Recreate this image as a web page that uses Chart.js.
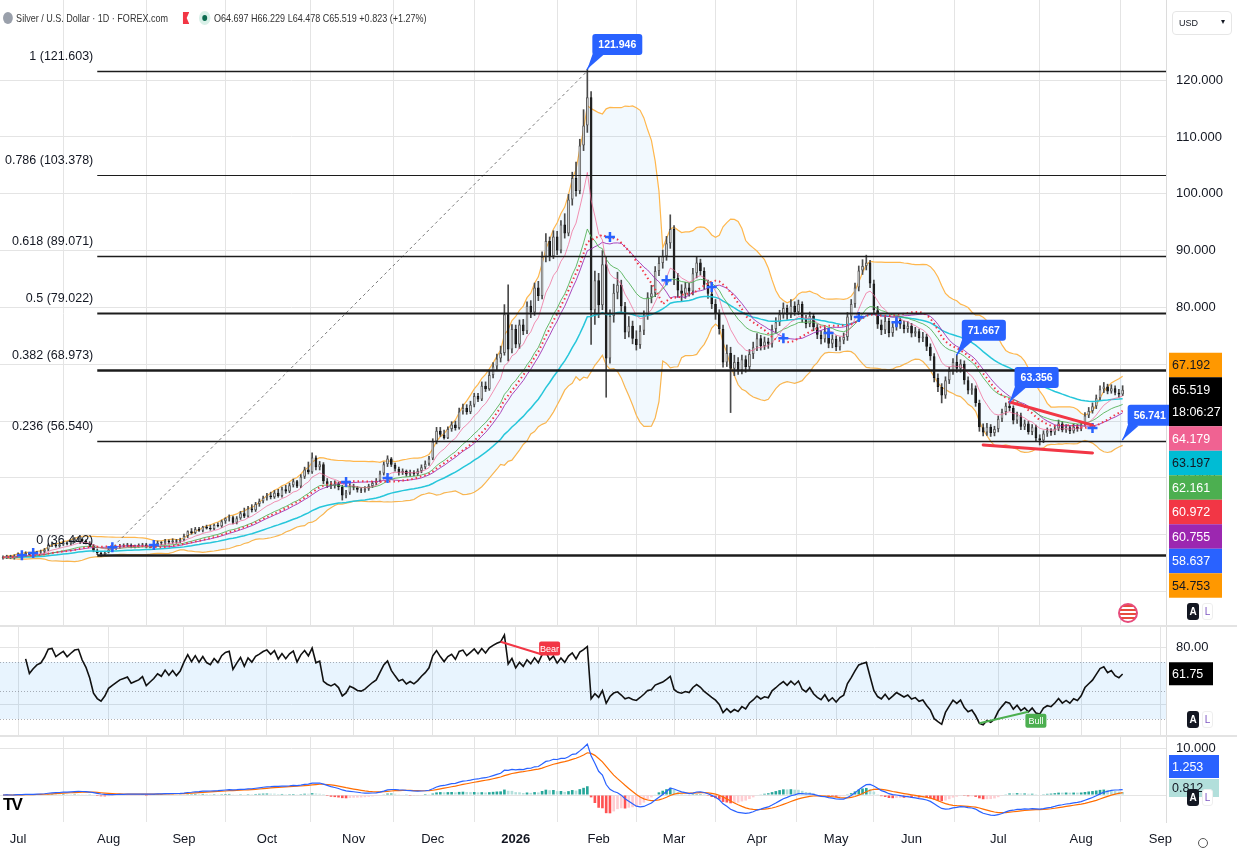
<!DOCTYPE html>
<html>
<head>
<meta charset="utf-8">
<script src="https://cdn.jsdelivr.net/npm/chart.js@4.4.1/dist/chart.umd.min.js"></script>
<style>
  body { margin: 0; background: #fff; }
  #wrap { position: relative; width: 1237px; height: 855px; overflow: hidden; font-family: 'Liberation Sans', Arial, sans-serif; color: #131722; }
  .pane { position: absolute; left: 0; width: 1237px; }
  .sep { position: absolute; left: 0; width: 1237px; height: 2px; background: #e3e3e3; }
  #hdr { position: absolute; left: 3px; top: 11px; font-size: 11px; display: flex; align-items: center; gap: 4px; color: #333; transform: scaleX(0.82); transform-origin: left center; white-space: nowrap; }
  .ico { width: 12px; height: 12px; border-radius: 50%; background: #9aa0ab; display: inline-block; }
  .flag { width: 8px; height: 12px; background: #f23645; display: inline-block; margin-left: 14px; clip-path: polygon(0 0,100% 0,60% 50%,100% 100%,0 100%); }
  .dot { width: 14px; height: 14px; border-radius: 50%; background: #d9f0e8; display: inline-flex; align-items: center; justify-content: center; margin-left: 8px; }
  .dot i { width: 6px; height: 6px; border-radius: 50%; background: #0a6b4f; display: block; }
  #usd { position: absolute; left: 1172px; top: 11px; width: 60px; height: 24px; border: 1px solid #e6e6e6; border-radius: 4px; font-size: 9px; box-sizing: border-box; padding: 6px 0 0 6px; }
  #usd span { position: absolute; right: 6px; top: 5px; font-size: 8px; }
  .al { position: absolute; left: 1187px; display: flex; gap: 3px; font-size: 10px; font-weight: bold; }
  .al b { width: 12px; height: 17px; border-radius: 3px; background: #131722; color: #fff; display: flex; align-items: center; justify-content: center; }
  .al em { width: 11px; height: 17px; border-radius: 3px; border: 1px solid #eee; color: #7e57c2; font-style: normal; font-weight: normal; display: flex; align-items: center; justify-content: center; box-sizing: border-box; background: #fff; }
  #globe { position: absolute; left: 1118px; top: 603px; width: 16px; height: 16px; border-radius: 50%; border: 2px solid #e74c7c; background: repeating-linear-gradient(#e74c3c 0 2px, #fff 2px 4px); }
  #tv { position: absolute; left: 3px; top: 795px; font: bold 17px 'Liberation Sans', sans-serif; letter-spacing: -2px; color: #000; }
  #gear { position: absolute; left: 1198px; top: 838px; width: 8px; height: 8px; border: 1.5px solid #555; border-radius: 50%; }
</style>
</head>
<body>
<div id="wrap">
  <div class="pane" style="top:0;height:627px"><canvas id="cPrice"></canvas></div>
  <div class="pane" style="top:627px;height:110px"><canvas id="cRsi"></canvas></div>
  <div class="pane" style="top:737px;height:118px"><canvas id="cMacd"></canvas></div>
  <div class="sep" style="top:625px"></div>
  <div class="sep" style="top:735px"></div>
  <div id="hdr"><span class="ico"></span><span>Silver / U.S. Dollar · 1D · FOREX.com</span><span class="flag"></span><span class="dot"><i></i></span><span>O64.697 H66.229 L64.478 C65.519 +0.823 (+1.27%)</span></div>
  <div id="usd">USD<span>▾</span></div>
  <div id="globe"></div>
  <div class="al" style="top:603px"><b>A</b><em>L</em></div>
  <div class="al" style="top:711px"><b>A</b><em>L</em></div>
  <div class="al" style="top:789px"><b>A</b><em>L</em></div>
  <div id="tv">TV</div>
  <div id="gear"></div>
</div>
<script>
const FONT = "'Liberation Sans', Arial, sans-serif";

// month ticks (trading-day index of the first session of each month)
const monthLabels = ['Jul', 'Aug', 'Sep', 'Oct', 'Nov', 'Dec', '2026', 'Feb', 'Mar', 'Apr', 'May', 'Jun', 'Jul', 'Aug', 'Sep'];
const monthIndex = [4, 28, 48, 70, 93, 114, 136, 158, 178, 200, 221, 241, 264, 286, 307];

// daily XAG/USD candles, late Jun 2025 .. mid Aug 2026 (open = previous close)
const firstOpen = 35.9;
const closes = [
  36.0, 36.2, 35.9, 36.3, 36.6, 36.4, 36.8, 36.5, 36.7, 36.9,
  37.0, 37.4, 38.2, 38.3, 38.0, 38.3, 38.6, 38.4, 38.8, 39.2,
  39.3, 38.9, 38.6, 38.1, 37.2, 36.8, 36.6, 36.9, 37.4, 37.6,
  37.8, 38.0, 38.1, 38.2, 37.9, 38.0, 38.1, 38.3, 37.9, 38.1,
  38.3, 38.6, 38.5, 38.9, 38.7, 39.0, 38.8, 39.1, 39.8, 40.6,
  40.3, 41.0, 40.7, 41.4, 41.1, 41.0, 41.7, 41.5, 42.4, 42.9,
  43.1, 42.1, 42.9, 43.8, 43.2, 44.6, 44.3, 45.4, 45.9, 46.5,
  46.9, 46.6, 47.4, 46.8, 48.0, 47.6, 48.7, 49.4, 48.5, 50.2,
  51.5, 51.0, 53.6, 51.9, 52.4, 49.4, 48.9, 48.6, 49.0, 48.4,
  46.9, 47.4, 48.6, 48.3, 47.9, 47.8, 48.1, 48.6, 49.1, 49.5,
  50.8, 52.4, 53.4, 52.3, 51.6, 50.9, 51.2, 50.6, 51.0, 50.7,
  51.2, 51.9, 52.5, 53.4, 56.4, 58.3, 57.6, 57.0, 58.6, 59.4,
  58.8, 61.7, 62.3, 61.6, 62.9, 64.4, 63.8, 66.2, 65.6, 68.1,
  69.6, 71.0, 72.0, 78.8, 72.6, 76.2, 73.5, 77.0, 75.8, 80.3,
  79.1, 83.5, 82.0, 88.9, 91.7, 89.0, 92.5, 90.0, 94.6, 93.0,
  99.0, 102.8, 100.5, 108.5, 112.0, 117.0, 79.5, 84.8, 80.4, 87.6,
  71.0, 78.5, 82.6, 84.0, 80.2, 75.6, 76.8, 74.5, 73.4, 75.9,
  78.6, 81.8, 82.5, 86.4, 87.8, 89.0, 91.3, 93.8, 85.2, 83.0,
  82.4, 83.5, 82.8, 86.0, 87.9, 86.4, 84.0, 82.4, 80.6, 78.9,
  76.2, 70.3, 72.0, 69.2, 70.4, 69.0, 70.9, 69.5, 71.8, 73.0,
  74.6, 73.2, 74.0, 73.6, 76.2, 77.4, 78.8, 79.9, 78.7, 80.3,
  79.2, 80.6, 78.0, 77.1, 78.5, 76.5, 75.2, 74.4, 75.8, 73.6,
  74.5, 73.0, 74.2, 74.8, 78.4, 80.6, 83.5, 86.5, 87.3, 87.9,
  84.2, 79.5, 77.0, 76.0, 77.6, 75.5, 76.6, 77.8, 77.0, 76.2,
  76.8, 75.4, 75.8, 74.6, 74.9, 73.1, 71.4, 67.6, 66.0, 64.5,
  67.2, 68.8, 70.4, 69.2, 70.1, 67.2, 65.4, 65.8, 63.2, 58.9,
  58.0, 59.0, 57.9, 58.6, 60.4, 61.6, 62.7, 62.3, 60.1, 61.0,
  59.0, 59.6, 58.1, 58.9, 57.0, 56.6, 57.8, 58.3, 58.0, 58.7,
  59.6, 58.4, 58.9, 58.2, 59.0, 58.6, 59.4, 61.0, 61.8, 62.6,
  64.0, 65.6, 66.1, 65.2, 65.8, 65.0, 64.7, 65.519
];
const highs = [
  36.3, 36.4, 36.4, 36.5, 36.8, 36.8, 37.0, 36.9, 36.9, 37.1,
  37.3, 37.6, 38.4, 38.6, 38.5, 38.5, 38.9, 38.8, 39.0, 39.5,
  39.6, 39.5, 39.1, 38.8, 38.3, 37.5, 37.0, 37.1, 37.6, 37.9,
  38.0, 38.3, 38.4, 38.5, 38.4, 38.2, 38.4, 38.5, 38.5, 38.3,
  38.6, 38.9, 38.8, 39.2, 39.1, 39.3, 39.2, 39.4, 40.1, 40.7,
  41.1, 41.3, 41.3, 41.5, 41.7, 41.7, 41.9, 42.1, 42.6, 43.0,
  43.5, 43.3, 43.2, 44.1, 44.7, 45.0, 45.3, 45.7, 46.3, 46.8,
  47.3, 47.5, 47.8, 48.0, 48.4, 48.7, 49.1, 49.8, 49.6, 50.6,
  51.9, 52.8, 54.4, 53.9, 52.9, 52.7, 49.9, 49.4, 49.5, 49.3,
  48.7, 47.8, 49.0, 48.9, 48.5, 48.2, 48.5, 48.9, 49.4, 49.9,
  51.2, 52.8, 53.9, 53.6, 52.6, 51.9, 51.6, 51.4, 51.4, 51.3,
  51.6, 52.3, 53.0, 53.8, 56.9, 58.9, 58.9, 58.4, 59.0, 59.9,
  60.0, 62.3, 63.0, 62.9, 63.5, 64.9, 64.9, 66.9, 66.9, 68.8,
  70.3, 71.8, 73.2, 80.5, 84.0, 77.0, 76.9, 77.8, 77.9, 81.0,
  81.2, 84.3, 84.6, 89.8, 93.0, 92.4, 93.5, 93.4, 95.3, 96.5,
  99.9, 103.8, 105.6, 109.6, 114.8, 121.9, 118.0, 86.4, 86.0, 90.0,
  89.0, 79.6, 84.1, 86.2, 84.8, 80.9, 78.4, 77.6, 75.9, 76.8,
  79.4, 82.6, 83.9, 87.2, 88.9, 90.1, 92.5, 96.3, 94.4, 86.0,
  84.0, 84.4, 84.3, 86.9, 89.0, 88.5, 87.0, 84.8, 83.1, 81.4,
  79.6, 76.9, 73.4, 73.0, 71.6, 71.2, 71.6, 71.5, 72.6, 73.9,
  75.4, 75.1, 74.8, 74.6, 76.9, 78.2, 79.5, 80.8, 80.4, 81.4,
  81.0, 81.3, 81.0, 78.6, 79.2, 78.9, 77.0, 75.9, 76.5, 76.2,
  75.2, 75.0, 74.8, 75.5, 79.1, 81.4, 84.3, 87.3, 88.4, 89.2,
  88.3, 84.8, 80.2, 77.8, 78.4, 78.1, 77.3, 78.5, 78.4, 77.6,
  77.5, 77.2, 76.5, 76.2, 75.6, 75.3, 73.6, 71.9, 68.3, 66.6,
  67.8, 69.5, 71.0, 71.7, 70.8, 70.6, 67.8, 66.6, 66.2, 63.7,
  59.5, 59.6, 59.4, 59.1, 60.9, 62.1, 63.2, 63.4, 62.7, 61.6,
  61.4, 60.2, 60.0, 59.4, 59.3, 57.6, 58.3, 58.8, 58.7, 59.2,
  60.2, 59.9, 59.4, 59.2, 59.5, 59.4, 59.9, 61.5, 62.4, 63.2,
  64.6, 66.2, 66.8, 66.5, 66.4, 66.2, 65.6, 66.229
];
const lows = [
  35.7, 35.8, 35.8, 35.7, 36.1, 36.2, 36.2, 36.3, 36.3, 36.5,
  36.7, 36.8, 37.2, 37.9, 37.8, 37.8, 38.1, 38.2, 38.2, 38.6,
  38.9, 38.7, 38.4, 37.9, 37.0, 36.5, 36.2, 36.4, 36.8, 37.2,
  37.4, 37.6, 37.8, 37.9, 37.7, 37.7, 37.8, 37.9, 37.7, 37.7,
  37.9, 38.1, 38.2, 38.3, 38.4, 38.5, 38.5, 38.6, 38.9, 39.5,
  40.1, 40.2, 40.6, 40.5, 41.0, 40.8, 40.9, 41.4, 41.3, 42.0,
  42.4, 41.9, 41.9, 42.7, 43.0, 43.1, 44.0, 44.1, 45.0, 45.6,
  46.1, 46.3, 46.4, 46.6, 46.6, 47.3, 47.4, 48.4, 48.3, 48.3,
  49.9, 50.7, 50.8, 51.4, 51.4, 49.0, 48.3, 48.1, 48.2, 47.9,
  46.1, 46.5, 47.1, 47.9, 47.5, 47.4, 47.5, 47.8, 48.3, 48.8,
  49.3, 50.5, 52.0, 52.0, 51.2, 50.5, 50.6, 50.3, 50.3, 50.4,
  50.4, 50.9, 51.6, 52.2, 53.2, 56.0, 57.3, 56.8, 56.9, 58.2,
  58.4, 58.6, 61.2, 61.2, 61.3, 62.5, 63.4, 63.6, 65.2, 65.4,
  67.6, 69.0, 70.4, 71.6, 70.6, 72.0, 72.9, 72.8, 75.2, 75.4,
  78.2, 78.6, 81.2, 81.5, 88.0, 88.2, 88.6, 89.3, 89.6, 92.2,
  92.6, 98.0, 99.6, 100.0, 107.6, 110.8, 73.5, 77.0, 78.2, 79.6,
  64.2, 70.2, 77.4, 81.5, 79.2, 74.5, 74.8, 73.6, 72.5, 72.8,
  75.2, 77.9, 80.8, 81.9, 85.6, 86.9, 88.3, 90.4, 84.0, 81.8,
  81.2, 81.6, 82.0, 82.2, 85.2, 85.7, 83.2, 81.6, 79.8, 77.9,
  75.3, 69.5, 69.6, 61.5, 68.0, 68.2, 68.3, 68.6, 68.9, 71.0,
  72.4, 72.5, 72.6, 72.8, 73.0, 75.5, 76.8, 78.1, 77.9, 78.2,
  78.6, 78.7, 77.4, 76.4, 76.6, 75.9, 74.5, 73.6, 73.9, 72.9,
  72.9, 72.4, 72.5, 73.6, 74.2, 77.8, 80.0, 82.9, 85.8, 86.6,
  83.5, 78.8, 76.3, 75.2, 75.4, 74.8, 74.9, 76.0, 76.3, 75.5,
  75.6, 74.8, 74.9, 73.9, 74.0, 72.4, 70.7, 66.9, 65.2, 63.2,
  64.0, 66.6, 68.2, 68.6, 68.6, 66.5, 64.8, 64.7, 62.6, 58.2,
  57.4, 57.5, 57.3, 57.4, 58.1, 59.9, 61.1, 61.8, 59.5, 59.6,
  58.5, 58.5, 57.7, 57.6, 56.5, 55.8, 56.2, 57.3, 57.5, 57.6,
  58.3, 58.1, 58.0, 57.8, 57.9, 58.2, 58.3, 59.1, 60.6, 61.4,
  62.2, 63.6, 65.0, 64.8, 64.9, 64.6, 64.2, 64.478
];

const priceTicks = [30, 40, 50, 60, 70, 80, 90, 100, 110, 120];

// Fibonacci retracement drawn on the chart
const fibRatios = ['1', '0.786', '0.618', '0.5', '0.382', '0.236', '0'];
const fibPrices = [121.603, 103.378, 89.071, 79.022, 68.973, 56.540, 36.442];
const fibStart = 25;
const fibTrendIdx = [27, 155];
const fibTrendVal = [36.442, 121.603];

// price callouts
const calloutIdx = [155, 253, 267, 297];
const calloutVal = [121.946, 71.667, 63.356, 56.741];

// blue cross markers
const crossIdx = [5, 8, 29, 40, 91, 102, 161, 176, 188, 207, 219, 227, 237, 289];
const crossVal = [36.4, 36.8, 37.8, 38.2, 49.3, 50.0, 92.4, 84.8, 83.6, 74.6, 75.5, 78.3, 77.4, 58.8];

// red wedge lines
const wedgeTopIdx = [267, 289];
const wedgeTopVal = [63.356, 59.3];
const wedgeBotIdx = [260, 289];
const wedgeBotVal = [55.8, 54.4];

// RSI divergences
const bearIdx = [132, 143];
const bullIdx = [259, 272];

// last-value labels on the scales (the last price label is the anchor of the stack)
const priceTagValues = [67.192, 65.519, 64.179, 63.197, 62.161, 60.972, 60.755, 58.637, 54.753];
const lastPriceTag = 1;
const countdown = '18:06:27';
const rsiLast = 61.75;
const macdTagValues = [1.253, 0.812];

// ---- styles ----
const tagBg = ['#FF9800', '#000000', '#F06292', '#00BCD4', '#4CAF50', '#F23645', '#9C27B0', '#2962FF', '#FF9800'];
const tagFg = ['#131722', '#ffffff', '#ffffff', '#131722', '#ffffff', '#ffffff', '#ffffff', '#ffffff', '#131722'];
const fibWidths = [1.5, 1.2, 1.5, 2, 2.5, 1.5, 2.5];
const gridColor = '#e4e4e4';
const axisW = 71;

// ---- indicators ----
const opens = closes.map((c, i) => (i === 0 ? firstOpen : closes[i - 1]));
function ema(src, n) {
  const k = 2 / (n + 1);
  let e = src[0];
  return src.map((v, i) => (i === 0 ? e : (e = e + k * (v - e))));
}
function sma(src, n) {
  return src.map((_, i) => {
    const a = src.slice(Math.max(0, i - n + 1), i + 1);
    return a.reduce((s, v) => s + v, 0) / a.length;
  });
}
function stdev(src, n, mean) {
  return src.map((_, i) => {
    const a = src.slice(Math.max(0, i - n + 1), i + 1);
    return Math.sqrt(a.reduce((s, v) => s + (v - mean[i]) ** 2, 0) / a.length);
  });
}
function rsiCalc(src, n) {
  let ag = 0, al = 0;
  return src.map((v, i) => {
    if (i === 0) return null;
    const ch = v - src[i - 1];
    const w = Math.min(i, n);
    ag += (Math.max(ch, 0) - ag) / w;
    al += (Math.max(-ch, 0) - al) / w;
    if (i < 6) return null;
    return al === 0 ? 100 : 100 - 100 / (1 + ag / al);
  });
}

const basis = sma(closes, 20);
const dev = stdev(closes, 20, basis);
const bbUp = basis.map((b, i) => b + 2 * dev[i]);
const bbLo = basis.map((b, i) => b - 2 * dev[i]);
const ema9 = ema(closes, 9);
const ema20 = ema(closes, 20);
const sma22 = sma(closes, 22);
const ema50 = ema(closes, 50);
const rsi = rsiCalc(closes, 14);
const ema12 = ema(closes, 12), ema26 = ema(closes, 26);
const macd = ema12.map((v, i) => v - ema26[i]);
const signal = ema(macd, 9);
const hist = macd.map((v, i) => v - signal[i]);

const pts = arr => arr.map((v, i) => ({ x: i, y: v }));
const idx = closes.map((_, i) => i);

Chart.defaults.font.family = FONT;
Chart.defaults.color = '#131722';

const xMin = -0.8, xMax = 308.5;

function xAxis(showLabels) {
  return {
    type: 'linear', min: xMin, max: xMax, offset: false,
    afterBuildTicks: s => { s.ticks = monthIndex.map(v => ({ value: v })); },
    ticks: {
      display: showLabels, autoSkip: false, maxRotation: 0, padding: 10,
      callback: v => monthLabels[monthIndex.indexOf(v)],
      font: ctx => ({ size: 13, weight: ctx.tick && ctx.tick.label === '2026' ? 'bold' : 'normal' })
    },
    grid: { color: gridColor, drawTicks: false },
    border: { display: false },
    afterFit: s => {
      s.height = showLabels ? 33 : 0;
      s.paddingLeft = 0; s.paddingRight = 0; s.paddingTop = 0; s.paddingBottom = 0;
    }
  };
}
function yAxis(min, max, ticks, fmt) {
  return {
    position: 'right', min, max,
    afterBuildTicks: s => { s.ticks = ticks.map(v => ({ value: v })); },
    ticks: { callback: fmt, font: { size: 13 }, color: '#131722', padding: 10 },
    grid: { color: gridColor, drawTicks: false },
    border: { color: '#dcdcdc' },
    afterFit: s => {
      s.width = axisW;
      s.paddingLeft = 0; s.paddingRight = 0; s.paddingTop = 0; s.paddingBottom = 0;
    }
  };
}
const baseOpts = {
  responsive: true, maintainAspectRatio: false, animation: false, events: [],
  layout: { padding: 0, autoPadding: false },
  plugins: { legend: { display: false }, tooltip: { enabled: false } }
};

function roundBox(ctx, x, y, w, h, r) {
  ctx.beginPath();
  ctx.moveTo(x + r, y);
  ctx.lineTo(x + w - r, y); ctx.quadraticCurveTo(x + w, y, x + w, y + r);
  ctx.lineTo(x + w, y + h - r); ctx.quadraticCurveTo(x + w, y + h, x + w - r, y + h);
  ctx.lineTo(x + r, y + h); ctx.quadraticCurveTo(x, y + h, x, y + h - r);
  ctx.lineTo(x, y + r); ctx.quadraticCurveTo(x, y, x + r, y);
  ctx.closePath();
}
function tag(ctx, x, y, w, h, bg, fg, text, text2) {
  ctx.fillStyle = bg;
  ctx.fillRect(x, y, w, h);
  ctx.fillStyle = fg;
  ctx.font = '12.5px ' + FONT;
  ctx.textAlign = 'left';
  ctx.textBaseline = 'middle';
  if (text2) {
    ctx.fillText(text, x + 3, y + h * 0.27);
    ctx.fillText(text2, x + 3, y + h * 0.73);
  } else {
    ctx.fillText(text, x + 3, y + h / 2 + 1);
  }
}

// ---- price pane ----
const priceOverlay = {
  id: 'priceOverlay',
  afterDatasetsDraw(chart) {
    const { ctx, chartArea: a, scales: { x, y } } = chart;
    ctx.save();
    // fib trend line
    ctx.strokeStyle = '#7a7a7a'; ctx.lineWidth = 1; ctx.setLineDash([3, 3]);
    ctx.beginPath();
    ctx.moveTo(x.getPixelForValue(fibTrendIdx[0]), y.getPixelForValue(fibTrendVal[0]));
    ctx.lineTo(x.getPixelForValue(fibTrendIdx[1]), y.getPixelForValue(fibTrendVal[1]));
    ctx.stroke();
    ctx.setLineDash([]);
    // fib levels
    const fx = x.getPixelForValue(fibStart);
    ctx.font = '12.5px ' + FONT;
    ctx.textAlign = 'right'; ctx.textBaseline = 'bottom';
    fibPrices.forEach((p, k) => {
      const py = Math.round(y.getPixelForValue(p)) + 0.5;
      ctx.strokeStyle = '#1c1c1c'; ctx.lineWidth = fibWidths[k];
      ctx.beginPath(); ctx.moveTo(fx, py); ctx.lineTo(a.right, py); ctx.stroke();
      ctx.fillStyle = '#131722';
      ctx.fillText(fibRatios[k] + ' (' + p.toFixed(3) + ')', fx - 4, py - 9);
    });
    // wedge lines
    ctx.strokeStyle = '#F23645'; ctx.lineWidth = 3; ctx.lineCap = 'round';
    [[wedgeTopIdx, wedgeTopVal], [wedgeBotIdx, wedgeBotVal]].forEach(([ix, vv]) => {
      ctx.beginPath();
      ctx.moveTo(x.getPixelForValue(ix[0]), y.getPixelForValue(vv[0]));
      ctx.lineTo(x.getPixelForValue(ix[1]), y.getPixelForValue(vv[1]));
      ctx.stroke();
    });
    // callouts
    ctx.font = 'bold 10.5px ' + FONT;
    calloutIdx.forEach((ci, k) => {
      const px = x.getPixelForValue(ci), py = y.getPixelForValue(calloutVal[k]);
      const text = calloutVal[k].toFixed(3);
      const w = ctx.measureText(text).width + 12, h = 21;
      const bx = px + 5, by = py - 14 - h;
      ctx.fillStyle = '#2962FF';
      roundBox(ctx, bx, by, w, h, 3); ctx.fill();
      ctx.beginPath(); ctx.moveTo(px, py); ctx.lineTo(bx + 1, by + h - 3); ctx.lineTo(bx + 11, by + h); ctx.closePath(); ctx.fill();
      ctx.strokeStyle = '#2962FF'; ctx.lineWidth = 1.5;
      ctx.beginPath(); ctx.moveTo(px, py); ctx.lineTo(bx + 4, by + h); ctx.stroke();
      ctx.fillStyle = '#fff'; ctx.textAlign = 'center'; ctx.textBaseline = 'middle';
      ctx.fillText(text, bx + w / 2, by + h / 2 + 0.5);
    });
    ctx.restore();
  },
  afterDraw(chart) {
    const { ctx, chartArea: a, scales: { y } } = chart;
    ctx.save();
    const hs = priceTagValues.map((_, k) => (k === lastPriceTag ? 49 : 24.5));
    let top = y.getPixelForValue(priceTagValues[lastPriceTag]) - 12.5;
    for (let k = 0; k < lastPriceTag; k++) top -= hs[k];
    priceTagValues.forEach((v, k) => {
      tag(ctx, a.right + 3, top, 53, hs[k], tagBg[k], tagFg[k], v.toFixed(3), k === lastPriceTag ? countdown : null);
      top += hs[k];
    });
    ctx.restore();
  }
};

new Chart(document.getElementById('cPrice'), {
  type: 'bar',
  data: {
    datasets: [
      { type: 'line', data: pts(bbUp), borderColor: '#FFB74D', borderWidth: 1.2, pointRadius: 0, fill: '+1', backgroundColor: 'rgba(33,150,243,0.06)', order: 6 },
      { type: 'line', data: pts(bbLo), borderColor: '#FFB74D', borderWidth: 1.2, pointRadius: 0, fill: false, order: 6 },
      { type: 'bar', data: idx.map(i => ({ x: i, y: [lows[i], highs[i]] })), backgroundColor: '#4a4a4a', barThickness: 1, grouped: false, order: 5 },
      { type: 'bar', data: idx.map(i => ({ x: i, y: [opens[i], closes[i]] })),
        backgroundColor: idx.map(i => (closes[i] >= opens[i] ? '#ffffff' : '#111111')),
        borderColor: idx.map(i => (closes[i] >= opens[i] ? '#5a5a5a' : '#111111')),
        borderWidth: 1, borderSkipped: false, minBarLength: 1, barPercentage: 0.72, categoryPercentage: 1, grouped: false, order: 4 },
      { type: 'line', data: pts(ema50), borderColor: '#26C6DA', borderWidth: 1.5, pointRadius: 0, order: 3 },
      { type: 'line', data: pts(ema20), borderColor: 'rgba(76,175,80,0.85)', borderWidth: 1, pointRadius: 0, order: 2 },
      { type: 'line', data: pts(sma22), borderColor: 'rgba(156,39,176,0.85)', borderWidth: 1, pointRadius: 0, order: 2 },
      { type: 'line', data: pts(basis), borderColor: '#F23645', borderWidth: 2, borderDash: [1.5, 3], pointRadius: 0, order: 1 },
      { type: 'line', data: pts(ema9), borderColor: 'rgba(240,98,146,0.7)', borderWidth: 1, pointRadius: 0, order: 1 },
      { type: 'line', data: crossIdx.map((ci, k) => ({ x: ci, y: crossVal[k] })), showLine: false, pointStyle: 'cross', pointRadius: 5, pointBorderColor: '#2962FF', pointBorderWidth: 2.5, order: 0 }
    ]
  },
  options: {
    ...baseOpts,
    scales: {
      x: xAxis(false),
      y: yAxis(23.77, 134.1, priceTicks, v => v.toFixed(3))
    }
  },
  plugins: [priceOverlay]
});

// ---- RSI pane ----
const rsiOverlay = {
  id: 'rsiOverlay',
  beforeDatasetsDraw(chart) {
    const { ctx, chartArea: a, scales: { y } } = chart;
    ctx.save();
    ctx.fillStyle = 'rgba(33,150,243,0.1)';
    ctx.fillRect(a.left, y.getPixelForValue(70), a.width, y.getPixelForValue(30) - y.getPixelForValue(70));
    ctx.strokeStyle = 'rgba(120,123,134,0.6)'; ctx.lineWidth = 1; ctx.setLineDash([1, 2]);
    [70, 50, 30].forEach(v => {
      const py = Math.round(y.getPixelForValue(v)) + 0.5;
      ctx.beginPath(); ctx.moveTo(a.left, py); ctx.lineTo(a.right, py); ctx.stroke();
    });
    ctx.restore();
  },
  afterDatasetsDraw(chart) {
    const { ctx, scales: { x, y } } = chart;
    ctx.save();
    ctx.font = '9px ' + FONT; ctx.textAlign = 'center'; ctx.textBaseline = 'middle';
    [[bearIdx, '#F23645', 'Bear', -13], [bullIdx, '#4CAF50', 'Bull', 2]].forEach(([ix, col, label, off]) => {
      const x0 = x.getPixelForValue(ix[0]), y0 = y.getPixelForValue(rsi[ix[0]]);
      const x1 = x.getPixelForValue(ix[1]), y1 = y.getPixelForValue(rsi[ix[1]]);
      ctx.strokeStyle = col; ctx.lineWidth = 2;
      ctx.beginPath(); ctx.moveTo(x0, y0); ctx.lineTo(x1, y1); ctx.stroke();
      ctx.fillStyle = col;
      const bx = x1 - 3, by = y1 + off;
      roundBox(ctx, bx, by, 21, 14, 2); ctx.fill();
      ctx.fillStyle = '#fff';
      ctx.fillText(label, bx + 10.5, by + 7.5);
    });
    ctx.restore();
  },
  afterDraw(chart) {
    const { ctx, chartArea: a, scales: { y } } = chart;
    ctx.save();
    tag(ctx, a.right + 3, y.getPixelForValue(rsiLast) - 11.5, 44, 23, '#000', '#fff', rsiLast.toFixed(2));
    ctx.restore();
  }
};

new Chart(document.getElementById('cRsi'), {
  type: 'line',
  data: { datasets: [
    { data: pts(rsi), borderColor: '#111', borderWidth: 1.6, pointRadius: 0, spanGaps: true }
  ] },
  options: {
    ...baseOpts,
    scales: {
      x: xAxis(false),
      y: yAxis(17.37, 94.56, [40, 80], v => (v === 80 ? '80.00' : ''))
    }
  },
  plugins: [rsiOverlay]
});

// ---- MACD pane ----
const macdOverlay = {
  id: 'macdOverlay',
  afterDraw(chart) {
    const { ctx, chartArea: a } = chart;
    ctx.save();
    tag(ctx, a.right + 3, 18, 50, 23, '#2962FF', '#fff', macdTagValues[0].toFixed(3));
    tag(ctx, a.right + 3, 42, 50, 18, '#B2DFDB', '#131722', macdTagValues[1].toFixed(3));
    ctx.restore();
  }
};

const histColors = hist.map((h, i) => {
  const prev = i > 0 ? hist[i - 1] : 0;
  if (h >= 0) return h >= prev ? '#26A69A' : '#B2DFDB';
  return h < prev ? '#FF5252' : '#FFCDD2';
});

new Chart(document.getElementById('cMacd'), {
  type: 'bar',
  data: { datasets: [
    { type: 'line', data: pts(macd), borderColor: '#2962FF', borderWidth: 1.2, pointRadius: 0, order: 0 },
    { type: 'line', data: pts(signal), borderColor: '#FF6D00', borderWidth: 1.2, pointRadius: 0, order: 1 },
    { type: 'bar', data: pts(hist), backgroundColor: histColors, barPercentage: 0.7, categoryPercentage: 1, grouped: false, order: 2 }
  ] },
  options: {
    ...baseOpts,
    scales: {
      x: xAxis(true),
      y: yAxis(-5.74, 12.34, [0, 10], v => (v === 10 ? '10.000' : ''))
    }
  },
  plugins: [macdOverlay]
});
</script>
</body>
</html>
